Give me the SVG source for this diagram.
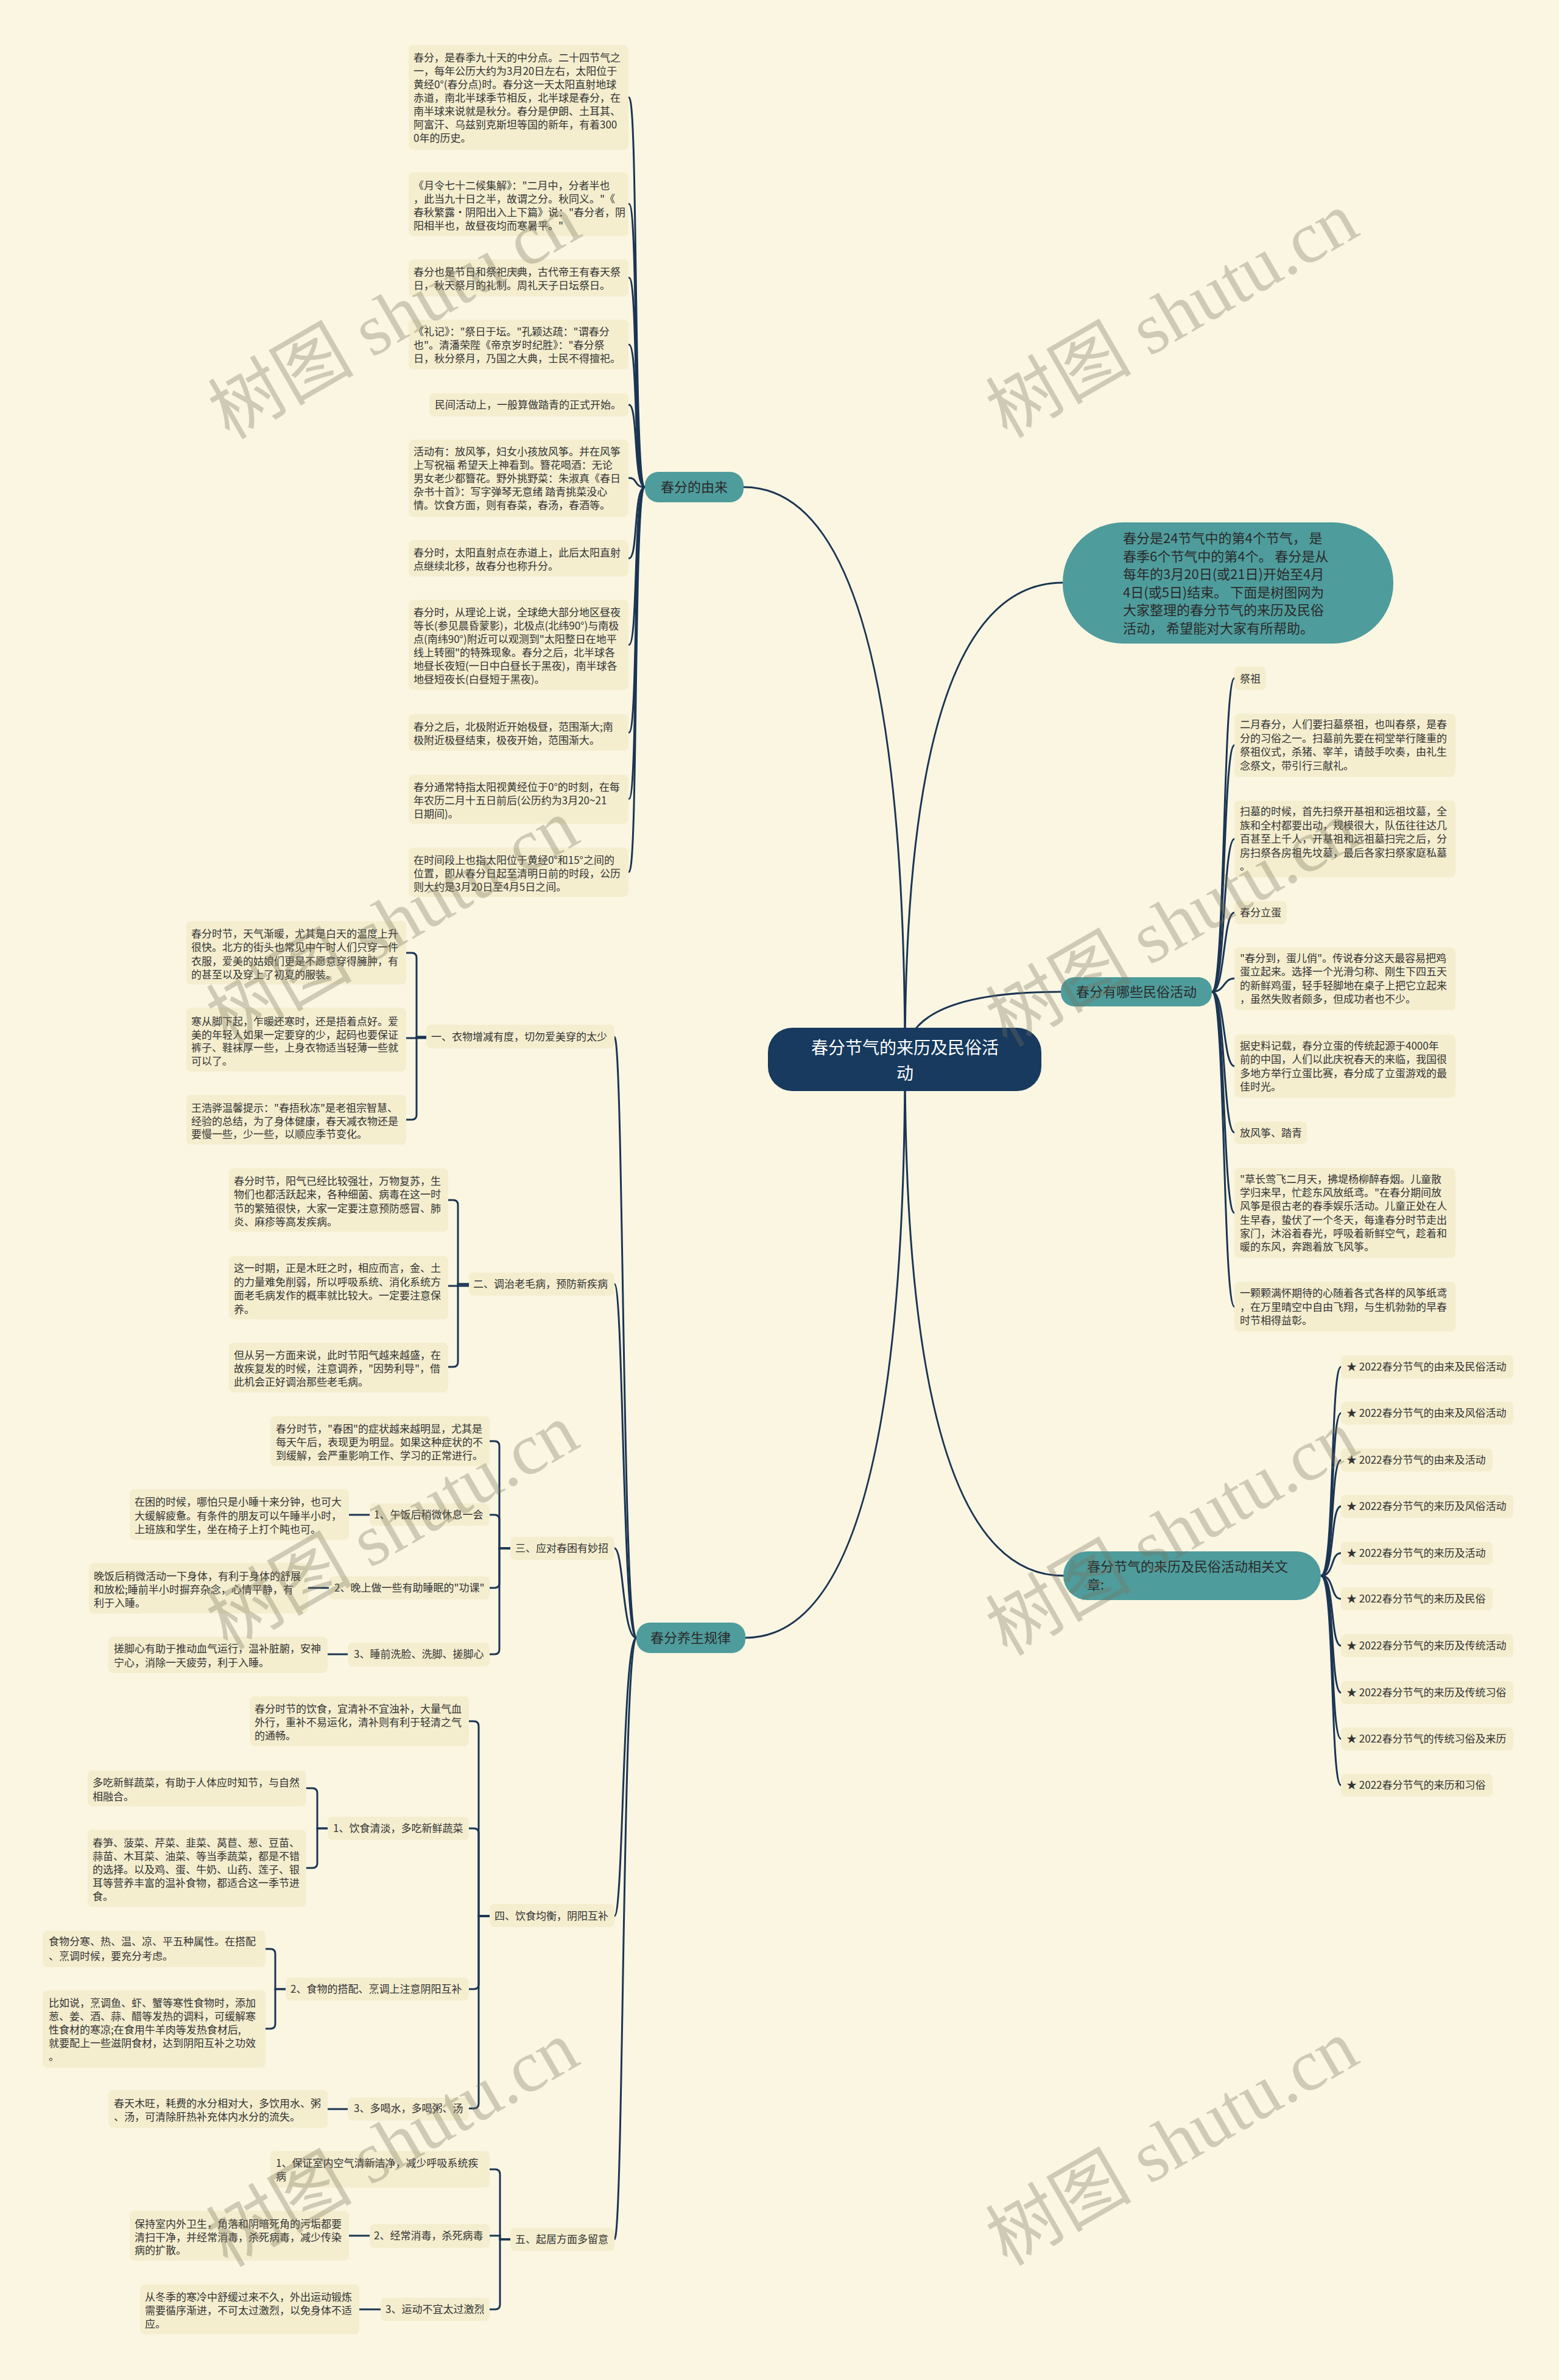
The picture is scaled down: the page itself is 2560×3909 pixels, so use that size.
<svg xmlns="http://www.w3.org/2000/svg" width="2560" height="3909" viewBox="0 0 2560 3909">
<style>
.lf{fill:#f4eecf}
.br{fill:#4f9c9c}
.t{font-family:'Noto Sans CJK SC','Noto Sans',sans-serif;font-size:17px;fill:#333}
.bt{font-family:'Noto Sans CJK SC','Noto Sans',sans-serif;font-size:22px;fill:#2a2a2a}
.ct{font-family:'Noto Sans CJK SC','Noto Sans',sans-serif;font-size:28px;fill:#ffffff;text-anchor:middle}
.c{fill:none;stroke:#1b3553;stroke-width:3;stroke-linecap:round}
.wm{font-family:'Liberation Serif','Noto Sans CJK SC',serif;font-size:120px;fill:#79735c;opacity:0.33;text-anchor:middle}
</style>
<rect width="2560" height="3909" fill="#faf6e2"/>
<g id="connectors">
<path class="c" d="M1486,1740 Q1486,800 1221,800"/>
<path class="c" d="M1486,1740 Q1486,2690 1224,2690"/>
<path class="c" d="M1486,1740 Q1486,957 1745,957"/>
<path class="c" d="M1486,1740 Q1486,1629 1742,1629"/>
<path class="c" d="M1486,1740 Q1486,2588 1746,2588"/>
<path class="c" d="M1059,800 C1040,800 1048,160 1033,160"/>
<path class="c" d="M1059,800 C1040,800 1048,335 1033,335"/>
<path class="c" d="M1059,800 C1040,800 1048,456 1033,456"/>
<path class="c" d="M1059,800 C1040,800 1048,566 1033,566"/>
<path class="c" d="M1059,800 C1040,800 1048,665 1033,665"/>
<path class="c" d="M1059,800 C1040,800 1048,785 1033,785"/>
<path class="c" d="M1059,800 C1040,800 1048,917 1033,917"/>
<path class="c" d="M1059,800 C1040,800 1048,1059 1033,1059"/>
<path class="c" d="M1059,800 C1040,800 1048,1203 1033,1203"/>
<path class="c" d="M1059,800 C1040,800 1048,1312 1033,1312"/>
<path class="c" d="M1059,800 C1040,800 1048,1432 1033,1432"/>
<path class="c" d="M1990,1629 C2012,1629 2008,1114 2027,1114"/>
<path class="c" d="M1990,1629 C2012,1629 2008,1224 2027,1224"/>
<path class="c" d="M1990,1629 C2012,1629 2008,1378 2027,1378"/>
<path class="c" d="M1990,1629 C2012,1629 2008,1499 2027,1499"/>
<path class="c" d="M1990,1629 C2012,1629 2008,1607 2027,1607"/>
<path class="c" d="M1990,1629 C2012,1629 2008,1751 2027,1751"/>
<path class="c" d="M1990,1629 C2012,1629 2008,1860 2027,1860"/>
<path class="c" d="M1990,1629 C2012,1629 2008,1992 2027,1992"/>
<path class="c" d="M1990,1629 C2012,1629 2008,2146 2027,2146"/>
<path class="c" d="M2169,2588 C2192,2588 2184,2245 2202,2245"/>
<path class="c" d="M2169,2588 C2192,2588 2184,2321 2202,2321"/>
<path class="c" d="M2169,2588 C2192,2588 2184,2398 2202,2398"/>
<path class="c" d="M2169,2588 C2192,2588 2184,2474 2202,2474"/>
<path class="c" d="M2169,2588 C2192,2588 2184,2551 2202,2551"/>
<path class="c" d="M2169,2588 C2192,2588 2184,2626 2202,2626"/>
<path class="c" d="M2169,2588 C2192,2588 2184,2703 2202,2703"/>
<path class="c" d="M2169,2588 C2192,2588 2184,2780 2202,2780"/>
<path class="c" d="M2169,2588 C2192,2588 2184,2856 2202,2856"/>
<path class="c" d="M2169,2588 C2192,2588 2184,2932 2202,2932"/>
<path class="c" d="M1045,2690 C1022,2690 1024,1703 1009,1703"/>
<path class="c" d="M1045,2690 C1022,2690 1024,2109 1009,2109"/>
<path class="c" d="M1045,2690 C1022,2690 1024,2543 1009,2543"/>
<path class="c" d="M1045,2690 C1022,2690 1024,3147 1009,3147"/>
<path class="c" d="M1045,2690 C1022,2690 1024,3678 1009,3678"/>
<path class="c" d="M700,1703 H684 V1573 Q684,1565 676,1565 H667"/>
<path class="c" d="M700,1705 H667"/>
<path class="c" d="M700,1703 H684 V1831 Q684,1839 676,1839 H667"/>
<path class="c" d="M770,2109 H752 V1979 Q752,1971 744,1971 H736"/>
<path class="c" d="M770,2112 H736"/>
<path class="c" d="M770,2109 H752 V2237 Q752,2245 744,2245 H736"/>
<path class="c" d="M838,2543 H820 V2375 Q820,2367 812,2367 H804"/>
<path class="c" d="M838,2543 H820 V2496 Q820,2488 812,2488 H804"/>
<path class="c" d="M838,2543 H820 V2600 Q820,2608 812,2608 H804"/>
<path class="c" d="M838,2543 H820 V2709 Q820,2717 812,2717 H804"/>
<path class="c" d="M607,2488 H573"/>
<path class="c" d="M540,2608 H506"/>
<path class="c" d="M571,2717 H538"/>
<path class="c" d="M804,3147 H786 V2835 Q786,2827 778,2827 H770"/>
<path class="c" d="M804,3147 H786 V3011 Q786,3003 778,3003 H770"/>
<path class="c" d="M804,3147 H786 V3259 Q786,3267 778,3267 H770"/>
<path class="c" d="M804,3147 H786 V3455 Q786,3463 778,3463 H770"/>
<path class="c" d="M538,3003 H521 V2945 Q521,2937 513,2937 H503"/>
<path class="c" d="M538,3003 H521 V3060 Q521,3068 513,3068 H503"/>
<path class="c" d="M469,3267 H452 V3209 Q452,3201 444,3201 H436"/>
<path class="c" d="M469,3267 H452 V3324 Q452,3332 444,3332 H436"/>
<path class="c" d="M571,3464 H538"/>
<path class="c" d="M838,3678 H821 V3571 Q821,3563 813,3563 H804"/>
<path class="c" d="M838,3678 H821 V3672 H804"/>
<path class="c" d="M838,3678 H821 V3785 Q821,3793 813,3793 H804"/>
<path class="c" d="M607,3672 H573"/>
<path class="c" d="M625,3793 H590"/>
</g>
<g id="center">
<rect x="1261" y="1688" width="449" height="104" rx="40" fill="#173a5e"/>
<text class="ct" x="1486" y="1731">春分节气的来历及民俗活</text>
<text class="ct" x="1486" y="1773">动</text>
</g>
<g id="intro">
<rect class="br" x="1745" y="858" width="543" height="199" rx="99"/>
<text class="bt" x="1844" y="892">春分是24节气中的第4个节气， 是<tspan x="1844" dy="29.5">春季6个节气中的第4个。 春分是从</tspan><tspan x="1844" dy="29.5">每年的3月20日(或21日)开始至4月</tspan><tspan x="1844" dy="29.5">4日(或5日)结束。 下面是树图网为</tspan><tspan x="1844" dy="29.5">大家整理的春分节气的来历及民俗</tspan><tspan x="1844" dy="29.5">活动， 希望能对大家有所帮助。</tspan></text>
</g>
<g id="b-youlai">
<rect class="br" x="1059" y="775" width="162" height="50" rx="22"/>
<text class="bt" x="1140" y="808" text-anchor="middle">春分的由来</text>
</g>
<g id="yl-1"><rect class="lf" x="671" y="74" width="361" height="172" rx="8"/>
<text class="t" x="679" y="101">春分，是春季九十天的中分点。二十四节气之<tspan x="679" dy="22">一，每年公历大约为3月20日左右，太阳位于</tspan><tspan x="679" dy="22">黄经0°(春分点)时。春分这一天太阳直射地球</tspan><tspan x="679" dy="22">赤道，南北半球季节相反，北半球是春分，在</tspan><tspan x="679" dy="22">南半球来说就是秋分。春分是伊朗、土耳其、</tspan><tspan x="679" dy="22">阿富汗、乌兹别克斯坦等国的新年，有着300</tspan><tspan x="679" dy="22">0年的历史。</tspan></text></g>
<g id="yl-2"><rect class="lf" x="671" y="283" width="361" height="105" rx="8"/>
<text class="t" x="679" y="311">《月令七十二候集解》："二月中，分者半也<tspan x="679" dy="22">，此当九十日之半，故谓之分。秋同义。"《</tspan><tspan x="679" dy="22">春秋繁露·阴阳出入上下篇》说："春分者，阴</tspan><tspan x="679" dy="22">阳相半也，故昼夜均而寒暑平。"</tspan></text></g>
<g id="yl-3"><rect class="lf" x="671" y="426" width="361" height="61" rx="8"/>
<text class="t" x="679" y="453">春分也是节日和祭祀庆典，古代帝王有春天祭<tspan x="679" dy="22">日，秋天祭月的礼制。周礼天子日坛祭日。</tspan></text></g>
<g id="yl-4"><rect class="lf" x="671" y="525" width="361" height="82" rx="8"/>
<text class="t" x="679" y="551">《礼记》："祭日于坛。"孔颖达疏："谓春分<tspan x="679" dy="22">也"。清潘荣陛《帝京岁时纪胜》："春分祭</tspan><tspan x="679" dy="22">日，秋分祭月，乃国之大典，士民不得擅祀。</tspan></text></g>
<g id="yl-5"><rect class="lf" x="705" y="646" width="327" height="38" rx="8"/>
<text class="t" x="714" y="671">民间活动上，一般算做踏青的正式开始。</text></g>
<g id="yl-6"><rect class="lf" x="671" y="722" width="361" height="127" rx="8"/>
<text class="t" x="679" y="748">活动有：放风筝，妇女小孩放风筝。并在风筝<tspan x="679" dy="22">上写祝福 希望天上神看到。簪花喝酒：无论</tspan><tspan x="679" dy="22">男女老少都簪花。野外挑野菜：朱淑真《春日</tspan><tspan x="679" dy="22">杂书十首》：写字弹琴无意绪 踏青挑菜没心</tspan><tspan x="679" dy="22">情。饮食方面，则有春菜，春汤，春酒等。</tspan></text></g>
<g id="yl-7"><rect class="lf" x="671" y="887" width="361" height="60" rx="8"/>
<text class="t" x="679" y="914">春分时，太阳直射点在赤道上，此后太阳直射<tspan x="679" dy="22">点继续北移，故春分也称升分。</tspan></text></g>
<g id="yl-8"><rect class="lf" x="671" y="985" width="361" height="148" rx="8"/>
<text class="t" x="679" y="1012">春分时，从理论上说，全球绝大部分地区昼夜<tspan x="679" dy="22">等长(参见晨昏蒙影)，北极点(北纬90°)与南极</tspan><tspan x="679" dy="22">点(南纬90°)附近可以观测到"太阳整日在地平</tspan><tspan x="679" dy="22">线上转圈"的特殊现象。春分之后，北半球各</tspan><tspan x="679" dy="22">地昼长夜短(一日中白昼长于黑夜)，南半球各</tspan><tspan x="679" dy="22">地昼短夜长(白昼短于黑夜)。</tspan></text></g>
<g id="yl-9"><rect class="lf" x="671" y="1173" width="361" height="60" rx="8"/>
<text class="t" x="679" y="1200">春分之后，北极附近开始极昼，范围渐大;南<tspan x="679" dy="22">极附近极昼结束，极夜开始，范围渐大。</tspan></text></g>
<g id="yl-10"><rect class="lf" x="671" y="1272" width="361" height="81" rx="8"/>
<text class="t" x="679" y="1299">春分通常特指太阳视黄经位于0°的时刻，在每<tspan x="679" dy="22">年农历二月十五日前后(公历约为3月20~21</tspan><tspan x="679" dy="22">日期间)。</tspan></text></g>
<g id="yl-11"><rect class="lf" x="671" y="1392" width="361" height="81" rx="8"/>
<text class="t" x="679" y="1419">在时间段上也指太阳位于黄经0°和15°之间的<tspan x="679" dy="22">位置，即从春分日起至清明日前的时段，公历</tspan><tspan x="679" dy="22">则大约是3月20日至4月5日之间。</tspan></text></g>
<g id="b-minsu">
<rect class="br" x="1742" y="1605" width="248" height="48" rx="22"/>
<text class="bt" x="1866" y="1637" text-anchor="middle">春分有哪些民俗活动</text>
</g>
<g id="ms-1"><rect class="lf" x="2027" y="1095" width="52" height="38" rx="8"/>
<text class="t" x="2036" y="1121">祭祖</text></g>
<g id="ms-2"><rect class="lf" x="2027" y="1172" width="363" height="104" rx="8"/>
<text class="t" x="2036" y="1196">二月春分，人们要扫墓祭祖，也叫春祭，是春<tspan x="2036" dy="22.6">分的习俗之一。扫墓前先要在祠堂举行隆重的</tspan><tspan x="2036" dy="22.6">祭祖仪式，杀猪、宰羊，请鼓手吹奏，由礼生</tspan><tspan x="2036" dy="22.6">念祭文，带引行三献礼。</tspan></text></g>
<g id="ms-3"><rect class="lf" x="2027" y="1315" width="363" height="126" rx="8"/>
<text class="t" x="2036" y="1339">扫墓的时候，首先扫祭开基祖和远祖坟墓，全<tspan x="2036" dy="22.5">族和全村都要出动，规模很大，队伍往往达几</tspan><tspan x="2036" dy="22.5">百甚至上千人，开基祖和远祖墓扫完之后，分</tspan><tspan x="2036" dy="22.5">房扫祭各房祖先坟墓，最后各家扫祭家庭私墓</tspan><tspan x="2036" dy="22.5">。</tspan></text></g>
<g id="ms-4"><rect class="lf" x="2027" y="1480" width="86" height="38" rx="8"/>
<text class="t" x="2036" y="1505">春分立蛋</text></g>
<g id="ms-5"><rect class="lf" x="2027" y="1556" width="363" height="103" rx="8"/>
<text class="t" x="2036" y="1580">"春分到，蛋儿俏"。传说春分这天最容易把鸡<tspan x="2036" dy="22.4">蛋立起来。选择一个光滑匀称、刚生下四五天</tspan><tspan x="2036" dy="22.4">的新鲜鸡蛋，轻手轻脚地在桌子上把它立起来</tspan><tspan x="2036" dy="22.4">，虽然失败者颇多，但成功者也不少。</tspan></text></g>
<g id="ms-6"><rect class="lf" x="2027" y="1699" width="363" height="104" rx="8"/>
<text class="t" x="2036" y="1724">据史料记载，春分立蛋的传统起源于4000年<tspan x="2036" dy="22.4">前的中国，人们以此庆祝春天的来临，我国很</tspan><tspan x="2036" dy="22.4">多地方举行立蛋比赛，春分成了立蛋游戏的最</tspan><tspan x="2036" dy="22.4">佳时光。</tspan></text></g>
<g id="ms-7"><rect class="lf" x="2027" y="1842" width="119" height="37" rx="8"/>
<text class="t" x="2036" y="1867">放风筝、踏青</text></g>
<g id="ms-8"><rect class="lf" x="2027" y="1918" width="363" height="148" rx="8"/>
<text class="t" x="2036" y="1943">"草长莺飞二月天，拂堤杨柳醉春烟。儿童散<tspan x="2036" dy="22.2">学归来早，忙趁东风放纸鸢。"在春分期间放</tspan><tspan x="2036" dy="22.2">风筝是很古老的春季娱乐活动。儿童正处在人</tspan><tspan x="2036" dy="22.2">生早春，蛰伏了一个冬天，每逢春分时节走出</tspan><tspan x="2036" dy="22.2">家门，沐浴着春光，呼吸着新鲜空气，趁着和</tspan><tspan x="2036" dy="22.2">暖的东风，奔跑着放飞风筝。</tspan></text></g>
<g id="ms-9"><rect class="lf" x="2027" y="2105" width="363" height="82" rx="8"/>
<text class="t" x="2036" y="2130">一颗颗满怀期待的心随着各式各样的风筝纸鸢<tspan x="2036" dy="22.5">，在万里晴空中自由飞翔，与生机勃勃的早春</tspan><tspan x="2036" dy="22.5">时节相得益彰。</tspan></text></g>
<g id="b-articles">
<rect class="br" x="1746" y="2548" width="423" height="80" rx="40"/>
<text class="bt" x="1785" y="2581">春分节气的来历及民俗活动相关文<tspan x="1785" dy="30">章:</tspan></text>
</g>
<g id="ar-1"><rect class="lf" x="2202" y="2226" width="283" height="38" rx="8"/><text class="t" x="2211" y="2251">★ 2022春分节气的由来及民俗活动</text></g>
<g id="ar-2"><rect class="lf" x="2202" y="2302" width="283" height="38" rx="8"/><text class="t" x="2211" y="2327">★ 2022春分节气的由来及风俗活动</text></g>
<g id="ar-3"><rect class="lf" x="2202" y="2379" width="249" height="38" rx="8"/><text class="t" x="2211" y="2404">★ 2022春分节气的由来及活动</text></g>
<g id="ar-4"><rect class="lf" x="2202" y="2455" width="283" height="38" rx="8"/><text class="t" x="2211" y="2480">★ 2022春分节气的来历及风俗活动</text></g>
<g id="ar-5"><rect class="lf" x="2202" y="2532" width="249" height="38" rx="8"/><text class="t" x="2211" y="2557">★ 2022春分节气的来历及活动</text></g>
<g id="ar-6"><rect class="lf" x="2202" y="2607" width="249" height="38" rx="8"/><text class="t" x="2211" y="2632">★ 2022春分节气的来历及民俗</text></g>
<g id="ar-7"><rect class="lf" x="2202" y="2684" width="283" height="38" rx="8"/><text class="t" x="2211" y="2709">★ 2022春分节气的来历及传统活动</text></g>
<g id="ar-8"><rect class="lf" x="2202" y="2761" width="283" height="38" rx="8"/><text class="t" x="2211" y="2786">★ 2022春分节气的来历及传统习俗</text></g>
<g id="ar-9"><rect class="lf" x="2202" y="2837" width="283" height="38" rx="8"/><text class="t" x="2211" y="2862">★ 2022春分节气的传统习俗及来历</text></g>
<g id="ar-10"><rect class="lf" x="2202" y="2913" width="249" height="38" rx="8"/><text class="t" x="2211" y="2938">★ 2022春分节气的来历和习俗</text></g>
<g id="b-yangsheng">
<rect class="br" x="1045" y="2665" width="179" height="50" rx="22"/>
<text class="bt" x="1134" y="2698" text-anchor="middle">春分养生规律</text>
</g>
<g id="s1"><rect class="lf" x="700" y="1683" width="309" height="39" rx="8"/>
<text class="t" x="708" y="1709">一、衣物增减有度，切勿爱美穿的太少</text></g>
<g id="s1-1"><rect class="lf" x="306" y="1513" width="361" height="104" rx="8"/>
<text class="t" x="314" y="1540">春分时节，天气渐暖，尤其是白天的温度上升<tspan x="314" dy="22.3">很快。北方的街头也常见中午时人们只穿一件</tspan><tspan x="314" dy="22.3">衣服，爱美的姑娘们更是不愿意穿得臃肿，有</tspan><tspan x="314" dy="22.3">的甚至以及穿上了初夏的服装。</tspan></text></g>
<g id="s1-2"><rect class="lf" x="306" y="1655" width="361" height="105" rx="8"/>
<text class="t" x="314" y="1684">寒从脚下起，乍暖还寒时，还是捂着点好。爱<tspan x="314" dy="21.7">美的年轻人如果一定要穿的少，起码也要保证</tspan><tspan x="314" dy="21.7">裤子、鞋袜厚一些，上身衣物适当轻薄一些就</tspan><tspan x="314" dy="21.7">可以了。</tspan></text></g>
<g id="s1-3"><rect class="lf" x="306" y="1798" width="361" height="82" rx="8"/>
<text class="t" x="314" y="1826">王浩骅温馨提示："春捂秋冻"是老祖宗智慧、<tspan x="314" dy="21.5">经验的总结，为了身体健康，春天减衣物还是</tspan><tspan x="314" dy="21.5">要慢一些，少一些，以顺应季节变化。</tspan></text></g>
<g id="s2"><rect class="lf" x="770" y="2090" width="239" height="38" rx="8"/>
<text class="t" x="777" y="2115">二、调治老毛病，预防新疾病</text></g>
<g id="s2-1"><rect class="lf" x="376" y="1919" width="360" height="104" rx="8"/>
<text class="t" x="384" y="1946">春分时节，阳气已经比较强壮，万物复苏，生<tspan x="384" dy="22.3">物们也都活跃起来，各种细菌、病毒在这一时</tspan><tspan x="384" dy="22.3">节的繁殖很快，大家一定要注意预防感冒、肺</tspan><tspan x="384" dy="22.3">炎、麻疹等高发疾病。</tspan></text></g>
<g id="s2-2"><rect class="lf" x="376" y="2063" width="360" height="104" rx="8"/>
<text class="t" x="384" y="2089">这一时期，正是木旺之时，相应而言，金、土<tspan x="384" dy="22.6">的力量难免削弱，所以呼吸系统、消化系统方</tspan><tspan x="384" dy="22.6">面老毛病发作的概率就比较大。一定要注意保</tspan><tspan x="384" dy="22.6">养。</tspan></text></g>
<g id="s2-3"><rect class="lf" x="376" y="2205" width="360" height="82" rx="8"/>
<text class="t" x="384" y="2232">但从另一方面来说，此时节阳气越来越盛，在<tspan x="384" dy="22">故疾复发的时候，注意调养，"因势利导"，借</tspan><tspan x="384" dy="22">此机会正好调治那些老毛病。</tspan></text></g>
<g id="s3"><rect class="lf" x="838" y="2524" width="171" height="38" rx="8"/>
<text class="t" x="846" y="2549">三、应对春困有妙招</text></g>
<g id="s3-0"><rect class="lf" x="444" y="2326" width="360" height="82" rx="8"/>
<text class="t" x="453" y="2353">春分时节，"春困"的症状越来越明显，尤其是<tspan x="453" dy="22">每天午后，表现更为明显。如果这种症状的不</tspan><tspan x="453" dy="22">到缓解，会严重影响工作、学习的正常进行。</tspan></text></g>
<g id="s3-1"><rect class="lf" x="607" y="2469" width="197" height="37" rx="8"/>
<text class="t" x="614" y="2494">1、午饭后稍微休息一会</text></g>
<g id="s3-1a"><rect class="lf" x="213" y="2446" width="360" height="83" rx="8"/>
<text class="t" x="221" y="2473">在困的时候，哪怕只是小睡十来分钟，也可大<tspan x="221" dy="22.5">大缓解疲惫。有条件的朋友可以午睡半小时，</tspan><tspan x="221" dy="22.5">上班族和学生，坐在椅子上打个盹也可。</tspan></text></g>
<g id="s3-2"><rect class="lf" x="540" y="2589" width="264" height="38" rx="8"/>
<text class="t" x="549" y="2614">2、晚上做一些有助睡眠的"功课"</text></g>
<g id="s3-2a"><rect class="lf" x="146" y="2567" width="360" height="83" rx="8"/>
<text class="t" x="154" y="2595">晚饭后稍微活动一下身体，有利于身体的舒展<tspan x="154" dy="22">和放松;睡前半小时摒弃杂念，心情平静，有</tspan><tspan x="154" dy="22">利于入睡。</tspan></text></g>
<g id="s3-3"><rect class="lf" x="571" y="2698" width="233" height="39" rx="8"/>
<text class="t" x="581" y="2723">3、睡前洗脸、洗脚、搓脚心</text></g>
<g id="s3-3a"><rect class="lf" x="178" y="2688" width="360" height="60" rx="8"/>
<text class="t" x="187" y="2714">搓脚心有助于推动血气运行，温补脏腑，安神<tspan x="187" dy="23">宁心，消除一天疲劳，利于入睡。</tspan></text></g>
<g id="s4"><rect class="lf" x="804" y="3127" width="205" height="38" rx="8"/>
<text class="t" x="812" y="3153">四、饮食均衡，阴阳互补</text></g>
<g id="s4-0"><rect class="lf" x="410" y="2786" width="360" height="82" rx="8"/>
<text class="t" x="418" y="2813">春分时节的饮食，宜清补不宜浊补，大量气血<tspan x="418" dy="22">外行，重补不易运化，清补则有利于轻清之气</tspan><tspan x="418" dy="22">的通畅。</tspan></text></g>
<g id="s4-1"><rect class="lf" x="538" y="2984" width="232" height="38" rx="8"/>
<text class="t" x="547" y="3009">1、饮食清淡，多吃新鲜蔬菜</text></g>
<g id="s4-1a"><rect class="lf" x="144" y="2908" width="359" height="59" rx="8"/>
<text class="t" x="152" y="2934">多吃新鲜蔬菜，有助于人体应时知节，与自然<tspan x="152" dy="23">相融合。</tspan></text></g>
<g id="s4-1b"><rect class="lf" x="144" y="3005" width="359" height="127" rx="8"/>
<text class="t" x="152" y="3033">春笋、菠菜、芹菜、韭菜、莴苣、葱、豆苗、<tspan x="152" dy="22">蒜苗、木耳菜、油菜、等当季蔬菜，都是不错</tspan><tspan x="152" dy="22">的选择。以及鸡、蛋、牛奶、山药、莲子、银</tspan><tspan x="152" dy="22">耳等营养丰富的温补食物，都适合这一季节进</tspan><tspan x="152" dy="22">食。</tspan></text></g>
<g id="s4-2"><rect class="lf" x="469" y="3248" width="301" height="38" rx="8"/>
<text class="t" x="477" y="3273">2、食物的搭配、烹调上注意阴阳互补</text></g>
<g id="s4-2a"><rect class="lf" x="70" y="3171" width="366" height="60" rx="8"/>
<text class="t" x="80" y="3195">食物分寒、热、温、凉、平五种属性。在搭配<tspan x="80" dy="24">、烹调时候，要充分考虑。</tspan></text></g>
<g id="s4-2b"><rect class="lf" x="70" y="3269" width="366" height="127" rx="8"/>
<text class="t" x="80" y="3296">比如说，烹调鱼、虾、蟹等寒性食物时，添加<tspan x="80" dy="22">葱、姜、酒、蒜、醋等发热的调料，可缓解寒</tspan><tspan x="80" dy="22">性食材的寒凉;在食用牛羊肉等发热食材后,</tspan><tspan x="80" dy="22">就要配上一些滋阴食材，达到阴阳互补之功效</tspan><tspan x="80" dy="22">。</tspan></text></g>
<g id="s4-3"><rect class="lf" x="571" y="3445" width="199" height="38" rx="8"/>
<text class="t" x="581" y="3469">3、多喝水，多喝粥、汤</text></g>
<g id="s4-3a"><rect class="lf" x="178" y="3433" width="360" height="62" rx="8"/>
<text class="t" x="187" y="3461">春天木旺，耗费的水分相对大，多饮用水、粥<tspan x="187" dy="22">、汤，可清除肝热补充体内水分的流失。</tspan></text></g>
<g id="s5"><rect class="lf" x="838" y="3659" width="171" height="38" rx="8"/>
<text class="t" x="846" y="3684">五、起居方面多留意</text></g>
<g id="s5-1"><rect class="lf" x="444" y="3533" width="360" height="60" rx="8"/>
<text class="t" x="453" y="3559">1、保证室内空气清新洁净，减少呼吸系统疾<tspan x="453" dy="22">病</tspan></text></g>
<g id="s5-2"><rect class="lf" x="607" y="3653" width="197" height="39" rx="8"/>
<text class="t" x="614" y="3678">2、经常消毒，杀死病毒</text></g>
<g id="s5-2a"><rect class="lf" x="213" y="3631" width="360" height="82" rx="8"/>
<text class="t" x="221" y="3659">保持室内外卫生，角落和阴暗死角的污垢都要<tspan x="221" dy="21.5">清扫干净，并经常消毒，杀死病毒，减少传染</tspan><tspan x="221" dy="21.5">病的扩散。</tspan></text></g>
<g id="s5-3"><rect class="lf" x="625" y="3774" width="179" height="38" rx="8"/>
<text class="t" x="633" y="3799">3、运动不宜太过激烈</text></g>
<g id="s5-3a"><rect class="lf" x="230" y="3752" width="360" height="82" rx="8"/>
<text class="t" x="238" y="3779">从冬季的寒冷中舒缓过来不久，外出运动锻炼<tspan x="238" dy="22">需要循序渐进，不可太过激烈，以免身体不适</tspan><tspan x="238" dy="22">应。</tspan></text></g>
<g id="watermarks">
<text class="wm" transform="translate(648,520) rotate(-30)" y="40">树图 shutu.cn</text>
<text class="wm" transform="translate(1925,518) rotate(-30)" y="40">树图 shutu.cn</text>
<text class="wm" transform="translate(645,1515) rotate(-30)" y="40">树图 shutu.cn</text>
<text class="wm" transform="translate(1925,1518) rotate(-30)" y="40">树图 shutu.cn</text>
<text class="wm" transform="translate(645,2508) rotate(-30)" y="40">树图 shutu.cn</text>
<text class="wm" transform="translate(1925,2518) rotate(-30)" y="40">树图 shutu.cn</text>
<text class="wm" transform="translate(645,3522) rotate(-30)" y="40">树图 shutu.cn</text>
<text class="wm" transform="translate(1925,3520) rotate(-30)" y="40">树图 shutu.cn</text>
</g>
</svg>
